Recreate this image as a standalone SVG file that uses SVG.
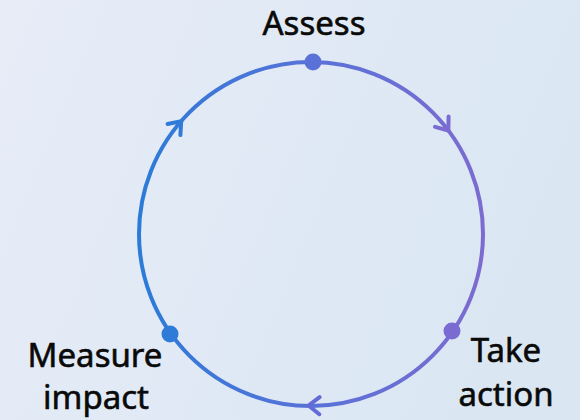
<svg xmlns="http://www.w3.org/2000/svg" width="580" height="420" viewBox="0 0 580 420">
  <defs>
    <linearGradient id="bg" x1="0" y1="0" x2="1" y2="0.3">
      <stop offset="0" stop-color="#e7ecf7"/>
      <stop offset="1" stop-color="#dae7f3"/>
    </linearGradient>
    <linearGradient id="ring" gradientUnits="userSpaceOnUse" x1="139" y1="0" x2="483" y2="0">
      <stop offset="0" stop-color="#2c7bd8"/>
      <stop offset="0.5" stop-color="#5872d8"/>
      <stop offset="1" stop-color="#7d6bd0"/>
    </linearGradient>
  </defs>
  <style>
    .lbl { font-family: "Noto Sans", "Open Sans", sans-serif; font-size: 33px; fill: #0a0a0a; stroke: #0a0a0a; stroke-width: 0.6; text-anchor: middle; }
    .ring { fill: none; stroke: url(#ring); stroke-width: 4; stroke-linecap: round; stroke-linejoin: round; }
    .chev { fill: none; stroke-width: 4; stroke-linecap: round; stroke-linejoin: round; }
  </style>
  <rect width="580" height="420" fill="url(#bg)"/>
  <g id="connectors">
    <circle class="ring" cx="311" cy="234" r="172"/>
    <path class="chev" stroke="#7a6cd2" transform="translate(448.4 130.5) rotate(53)" d="M-11,-8.5 L0,0 L-11,8.5"/>
    <path class="chev" stroke="#2f7bd8" transform="translate(181.2 121.2) rotate(-49)" d="M-11,-8.5 L0,0 L-11,8.5"/>
    <path class="chev" stroke="#636cd6" transform="translate(308.5 405.5) rotate(181)" d="M-11,-8.5 L0,0 L-11,8.5"/>
  </g>
  <g id="assess">
    <circle cx="313" cy="62" r="8.5" fill="#5a72d8"/>
    <text class="lbl" x="314" y="35">Assess</text>
  </g>
  <g id="take-action">
    <circle cx="452" cy="331" r="8.5" fill="#7a6bd2"/>
    <text class="lbl" x="506" y="362">Take</text>
    <text class="lbl" x="506" y="406">action</text>
  </g>
  <g id="measure-impact">
    <circle cx="170" cy="334" r="8.5" fill="#2f7bd8"/>
    <text class="lbl" x="95" y="367">Measure</text>
    <text class="lbl" x="96" y="409">impact</text>
  </g>
</svg>
